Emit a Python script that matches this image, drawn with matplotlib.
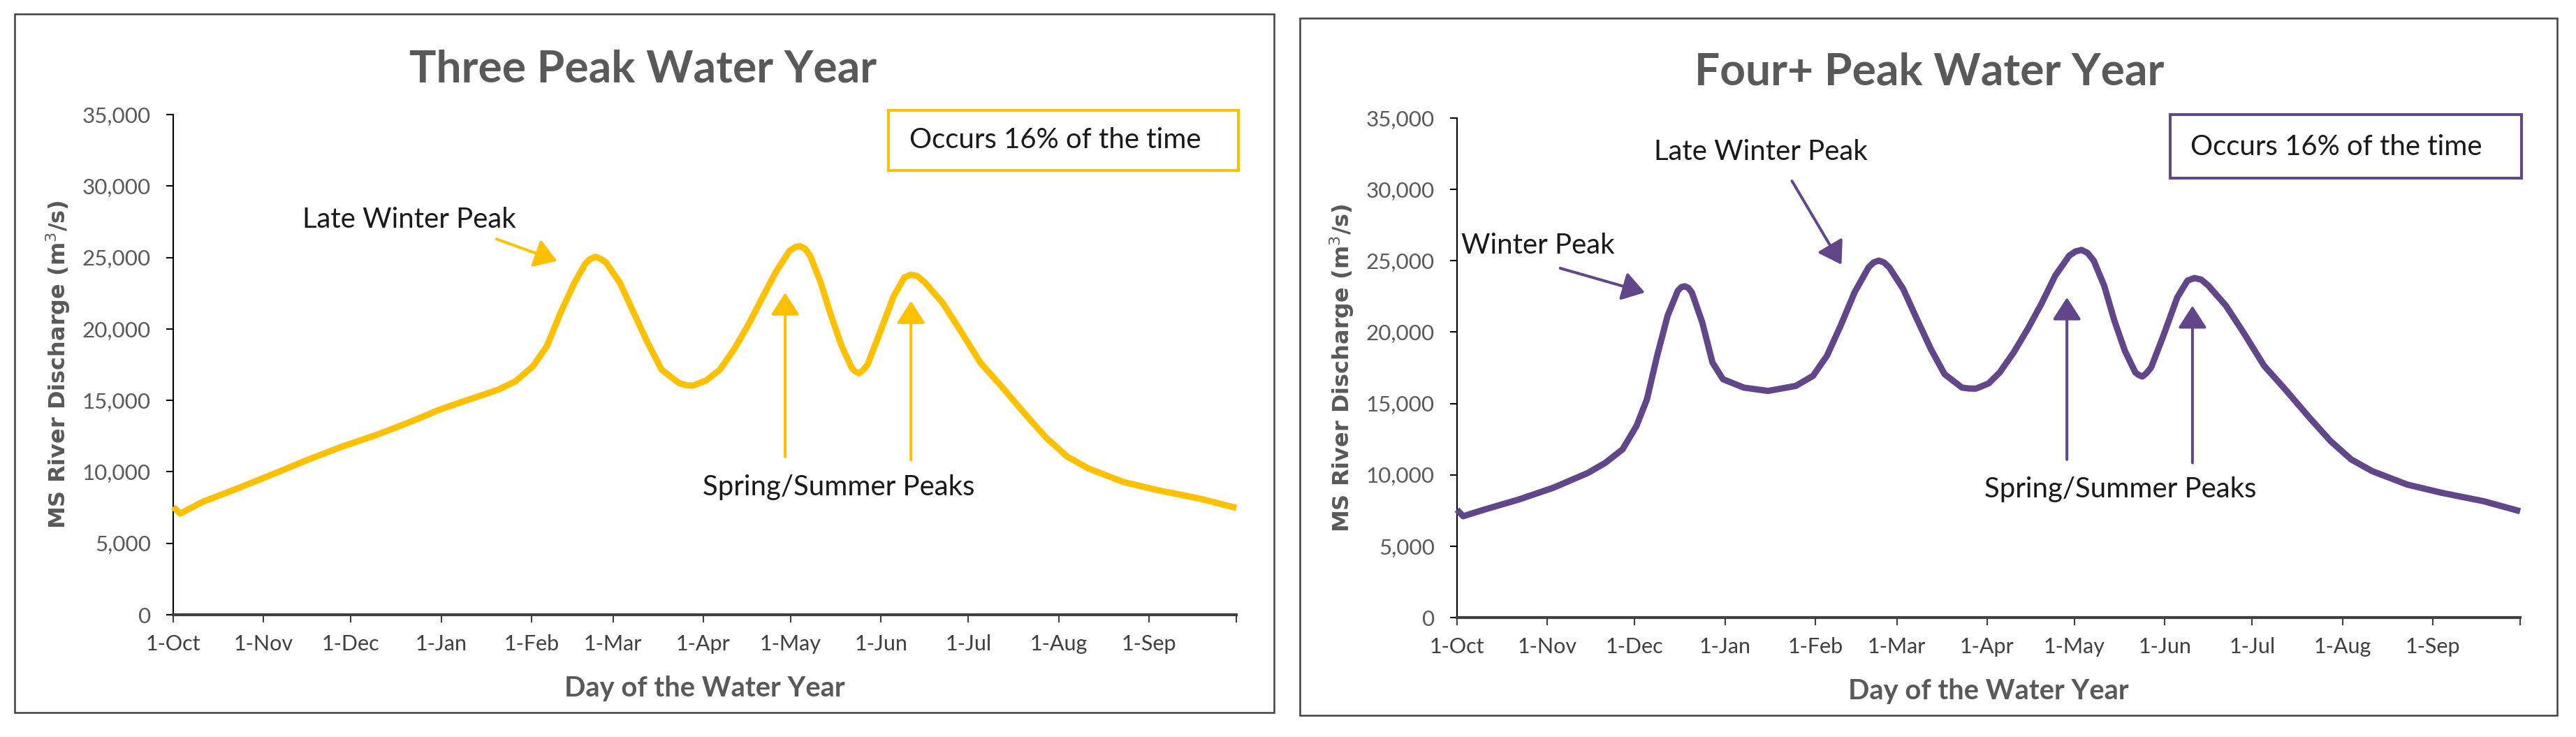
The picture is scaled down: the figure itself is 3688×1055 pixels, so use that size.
import matplotlib
matplotlib.use("Agg")
import matplotlib.pyplot as plt
from matplotlib.patches import Rectangle

# ---------------- data ----------------
month_days = [0, 31, 61, 92, 123, 151, 182, 212, 243, 273, 304, 335, 365]
month_labels = ["1-Oct", "1-Nov", "1-Dec", "1-Jan", "1-Feb", "1-Mar", "1-Apr",
                "1-May", "1-Jun", "1-Jul", "1-Aug", "1-Sep", ""]
y_ticks = [0, 5000, 10000, 15000, 20000, 25000, 30000, 35000]
y_tick_labels = ["0", "5,000", "10,000", "15,000", "20,000", "25,000", "30,000", "35,000"]

days_three = [0, 2.4, 10.1, 22, 34, 46, 57.9, 69.8, 81.7, 91.3, 99.6, 111.6, 117.5,
              123.5, 128.3, 133, 137.8, 141.4, 143, 145, 147, 148.6, 153.3, 158.1,
              162.9, 167.7, 173.6, 176, 178.4, 183, 187.7, 192.5, 197.2, 202, 206.8,
              211.6, 213.5, 215.2, 217, 218.7, 222.3, 225.9, 229.5, 233, 234, 235.4,
              236.8, 238.4, 242.6, 247.4, 251, 253.3, 255.5, 258.1, 264.1, 270,
              277.2, 284.4, 292.7, 299.9, 307, 314.2, 326.1, 338, 352.4, 365]
flow_three = [7550, 7080, 7900, 8835, 9820, 10830, 11765, 12585, 13520, 14340, 14930,
              15750, 16335, 17390, 18800, 21140, 23250, 24540, 24880, 25050, 24880,
              24650, 23250, 21140, 19030, 17150, 16220, 16070, 16030, 16400, 17150,
              18560, 20200, 22080, 23950, 25470, 25720, 25800, 25600, 25120, 23250,
              20900, 18800, 17270, 17050, 16900, 17100, 17510, 19730, 22310, 23600,
              23800, 23700, 23250, 21840, 19970, 17620, 15980, 13990, 12350, 11060,
              10240, 9300, 8720, 8130, 7480]

days_four = [0, 2.1, 9.3, 21.2, 33, 45, 50.9, 56.8, 61.6, 65.2, 68.7, 72.3, 75.8, 77,
             78.2, 79.4, 80.6, 84.2, 87.7, 91.3, 98.5, 106.8, 116.3, 122.2, 127,
             131.7, 136.5, 141.3, 143, 144.8, 146.6, 148.4, 153.2, 157.9, 162.7,
             167.4, 173.4, 175.8, 178.1, 182.5, 186.3, 191.1, 195.9, 200.6, 205.4,
             210.2, 212.3, 214.4, 216.5, 218.6, 222.2, 225.7, 229.3, 232.9, 234,
             235.3, 236.6, 238.3, 242.5, 247.3, 250.8, 253.2, 255.5, 258, 264, 270,
             277.1, 284.3, 292.7, 299.9, 307, 314.2, 326.2, 338.1, 352.5, 365]
flow_four = [7560, 7100, 7560, 8270, 9090, 10140, 10840, 11780, 13420, 15290, 18340,
             21150, 22900, 23150, 23210, 23100, 22790, 20680, 17870, 16700, 16110,
             15880, 16230, 16930, 18340, 20450, 22790, 24540, 24880, 25010, 24880,
             24540, 23020, 20910, 18810, 17050, 16110, 16050, 16040, 16400, 17170,
             18570, 20210, 21970, 23960, 25360, 25650, 25760, 25550, 25010, 23250,
             20800, 18690, 17170, 17000, 16890, 17100, 17520, 19740, 22440, 23610,
             23790, 23680, 23250, 21850, 19980, 17640, 16000, 14000, 12370, 11080,
             10260, 9320, 8740, 8150, 7450]

titles = ["Three Peak Water Year", "Four+ Peak Water Year"]
occurs_text = "Occurs 16% of the time"
x_label = "Day of the Water Year"
y_label = "MS River Discharge (m$^3$/s)"

YELLOW = "#FFC000"
PURPLE = "#61478A"
GRAY = "#595959"
DARK = "#404040"
TXT = "#1a1a1a"
FONT = "Lato"

fig = plt.figure(figsize=(36.88, 10.55), dpi=100)
renderer = fig.canvas.get_renderer()
W, H = 3688.0, 1055.0


def fit_width(t, target_px, vertical=False):
    bb = t.get_window_extent(renderer)
    cur = bb.height if vertical else bb.width
    t.set_fontsize(t.get_fontsize() * target_px / cur)


def size_for(s, target_px, weight="normal", family=FONT):
    t = fig.text(0, 0, s, fontsize=20, family=family, weight=weight)
    fit_width(t, target_px)
    fs = t.get_fontsize()
    t.remove()
    return fs


tick_fs_y = size_for("35,000", 98)
tick_fs_x = size_for("1-Oct", 79)
ann_fs = size_for("Spring/Summer Peaks", 390)
title_fs = size_for(titles[0], 669, weight="bold")
xl_fs = size_for(x_label, 401, weight="bold")

# ---------------- panel geometry (pixels) ----------------
panels = [
    dict(frame=(21, 20, 1824, 1020), ax=(248, 164, 1770, 880), title_x=921, title_base=117,
         days=days_three, flow=flow_three, color=YELLOW),
    dict(frame=(1861, 26, 3661, 1024), ax=(2086, 169, 3608, 884), title_x=2762, title_base=121,
         days=days_four, flow=flow_four, color=PURPLE),
]

axes = []
for i, p in enumerate(panels):
    fx0, fy0, fx1, fy1 = p["frame"]
    fig.patches.append(Rectangle((fx0 / W, 1 - fy1 / H), (fx1 - fx0) / W, (fy1 - fy0) / H,
                                 transform=fig.transFigure, fill=False,
                                 edgecolor=DARK, linewidth=1.8, zorder=0))
    ax0, ay0, ax1, ay1 = p["ax"]
    ax = fig.add_axes([ax0 / W, 1 - ay1 / H, (ax1 - ax0) / W, (ay1 - ay0) / H])
    axes.append(ax)
    ax.plot(p["days"], p["flow"], color=p["color"], linewidth=6.5,
            solid_joinstyle="round", solid_capstyle="butt", clip_on=False, zorder=3)
    ax.set_xlim(0, 365)
    ax.set_ylim(0, 35000)
    ax.set_xticks(month_days)
    ax.set_xticklabels(month_labels, family=FONT, fontsize=tick_fs_x, color=DARK)
    ax.set_yticks(y_ticks)
    ax.set_yticklabels(y_tick_labels, family=FONT, fontsize=tick_fs_y, color=GRAY)
    for s in ("top", "right"):
        ax.spines[s].set_visible(False)
    ax.spines["left"].set_color("black")
    ax.spines["left"].set_linewidth(1.5)
    ax.spines["bottom"].set_color(DARK)
    ax.spines["bottom"].set_linewidth(3.0)
    ax.spines["bottom"].set_zorder(4)
    ax.tick_params(axis="y", direction="out", length=7, width=1.5, color="black", pad=16)
    ax.tick_params(axis="x", direction="out", length=8, width=1.5, color=DARK, pad=12)
    ax.set_facecolor("none")

    xl = ax.set_xlabel(x_label, family=FONT, weight="bold", fontsize=xl_fs, color=GRAY)
    xl.set_va("center")
    ax.xaxis.set_label_coords(0.5, -0.148)
    yl = ax.set_ylabel(y_label, family="DejaVu Sans", weight="bold", fontsize=20, color=GRAY)
    fit_width(yl, 471, vertical=True)
    yl.set_va("center")
    ax.yaxis.set_label_coords(-0.108, 0.5)

    fig.text(p["title_x"] / W, 1 - p["title_base"] / H, titles[i], family=FONT,
             weight="bold", fontsize=title_fs, color=GRAY, ha="center", va="baseline")

arrow_kw = lambda c: dict(arrowstyle="-|>,head_length=0.65,head_width=0.42",
                          mutation_scale=30, color=c, lw=2.9, shrinkA=0, shrinkB=0)

# ---------------- annotations: left ----------------
ax = axes[0]
ax.text(81.1, 27650, "Late Winter Peak", family=FONT, fontsize=ann_fs, color=TXT,
        ha="center", va="center")
ax.annotate("", xy=(131.8, 24760), xytext=(111, 26290), arrowprops=arrow_kw(YELLOW))
ax.annotate("", xy=(210.1, 22540), xytext=(210.1, 11050), arrowprops=arrow_kw(YELLOW))
ax.annotate("", xy=(253.3, 21950), xytext=(253.3, 10820), arrowprops=arrow_kw(YELLOW))
ax.text(228.5, 8930, "Spring/Summer Peaks", family=FONT, fontsize=ann_fs, color=TXT,
        ha="center", va="center")
ax.add_patch(Rectangle((245.5, 31080), 365.7 - 245.5, 35290 - 31080, fill=False,
                       edgecolor=YELLOW, linewidth=2.9, clip_on=False))
ax.text(252.8, 33200, occurs_text, family=FONT, fontsize=ann_fs, color=TXT,
        ha="left", va="center")

# ---------------- annotations: right ----------------
ax = axes[1]
ax.text(1.4, 26070, "Winter Peak", family=FONT, fontsize=ann_fs, color=TXT,
        ha="left", va="center")
ax.annotate("", xy=(64.5, 22780), xytext=(35.4, 24480), arrowprops=arrow_kw(PURPLE))
ax.text(104.2, 32630, "Late Winter Peak", family=FONT, fontsize=ann_fs, color=TXT,
        ha="center", va="center")
ax.annotate("", xy=(132, 24730), xytext=(115, 30590), arrowprops=arrow_kw(PURPLE))
ax.annotate("", xy=(209.4, 22430), xytext=(209.4, 11070), arrowprops=arrow_kw(PURPLE))
ax.annotate("", xy=(252.5, 21850), xytext=(252.5, 10840), arrowprops=arrow_kw(PURPLE))
ax.text(227.7, 8960, "Spring/Summer Peaks", family=FONT, fontsize=ann_fs, color=TXT,
        ha="center", va="center")
ax.add_patch(Rectangle((244.9, 30770), 365.5 - 244.9, 35250 - 30770, fill=False,
                       edgecolor=PURPLE, linewidth=2.9, clip_on=False))
ax.text(251.8, 32960, occurs_text, family=FONT, fontsize=ann_fs, color=TXT,
        ha="left", va="center")

fig.savefig("out.png", dpi=100, facecolor="white")
